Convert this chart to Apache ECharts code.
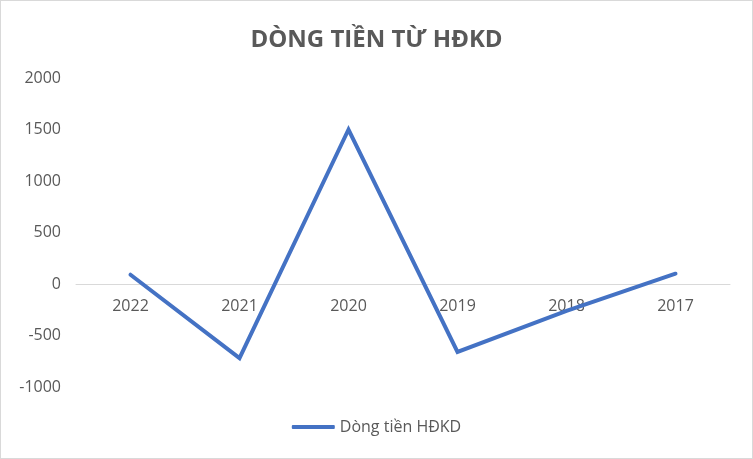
<!DOCTYPE html>
<html><head><meta charset="utf-8">
<script src="https://cdn.jsdelivr.net/npm/echarts@6/dist/echarts.min.js"></script>
<style>html,body{margin:0;padding:0;background:#fff}#c{width:751px;height:457px;border:1px solid #d9d9d9}</style>
</head><body><div id="c"></div>
<script>
const categories = ['2022','2021','2020','2019','2018','2017'];
const values = [90, -720, 1500, -660, -260, 100];
const yTicks = {min: -1000, max: 2000, step: 500};
const seriesName = 'Dòng tiền HĐKD';
const titleText = 'DÒNG TIỀN TỪ HĐKD';
const font = '"Open Sans", "Noto Sans", sans-serif';
const gridTop = 77, gridBottom = 71, H = 457;
const plotH = H - gridTop - gridBottom;
const zeroOffset = plotH * (0 - yTicks.min) / (yTicks.max - yTicks.min);
const chart = echarts.init(document.getElementById('c'));
chart.setOption({
  animation: false,
  title: {text: titleText, left: 'center', top: 22, textStyle: {fontFamily: font, fontSize: 24, fontWeight: 'bold', color: '#595959'}},
  grid: {left: 75, right: 22, top: gridTop, bottom: gridBottom},
  legend: {bottom: 18, left: 'center', itemWidth: 43, itemHeight: 4, itemGap: 4,
    icon: 'roundRect',
    textStyle: {fontFamily: font, fontSize: 16, color: '#595959'}, data: [seriesName]},
  xAxis: {type: 'category', data: categories, boundaryGap: true, position: 'bottom', offset: -zeroOffset,
    axisLine: {onZero: false, lineStyle: {color: '#d9d9d9', width: 1}},
    axisTick: {show: false},
    axisLabel: {fontFamily: font, fontSize: 16, color: '#595959', margin: 14}},
  yAxis: {type: 'value', min: yTicks.min, max: yTicks.max, interval: yTicks.step,
    splitLine: {show: false}, axisLine: {show: false}, axisTick: {show: false},
    axisLabel: {fontFamily: font, fontSize: 16, color: '#595959', margin: 15, formatter: v => String(v)}},
  series: [{name: seriesName, type: 'line', data: values, showSymbol: false, symbol: 'none',
    lineStyle: {color: '#4472C4', width: 4, cap: 'round', join: 'miter'}, itemStyle: {color: '#4472C4'}}]
});
</script></body></html>
